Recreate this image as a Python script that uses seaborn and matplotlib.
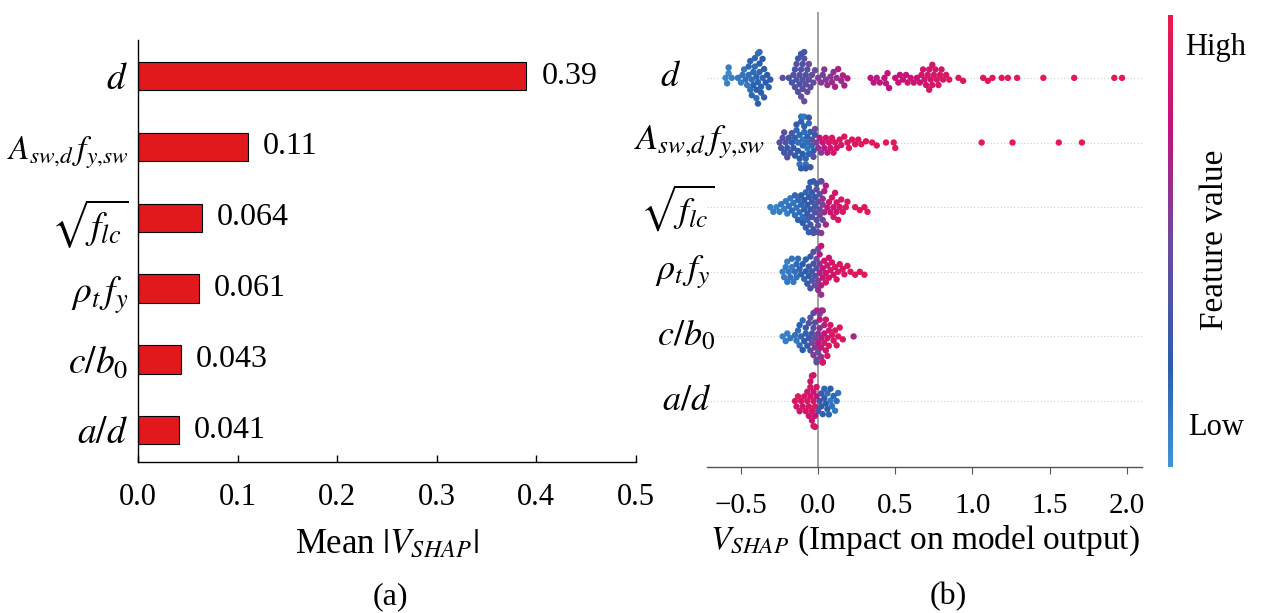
import numpy as np
import pandas as pd
import matplotlib
matplotlib.use("Agg")
import matplotlib.pyplot as plt
import matplotlib.colors as mcolors
import matplotlib.transforms as mtransforms
import seaborn as sns

# ---------------- data ----------------
features = [r"$d$", r"$A_{sw{,}d}\,f_{y{,}sw}$", r"$\sqrt{f_{lc}}$", r"$\rho_t\,f_y$", r"$c/b_0$", r"$a/d$"]
mean_abs_shap = [0.39, 0.11, 0.064, 0.061, 0.043, 0.041]
value_labels = ["0.39", "0.11", "0.064", "0.061", "0.043", "0.041"]
left_xticks = [0.0, 0.1, 0.2, 0.3, 0.4, 0.5]
left_xticklabels = ["0.0", "0.1", "0.2", "0.3", "0.4", "0.5"]
right_xticks = [-0.5, 0.0, 0.5, 1.0, 1.5, 2.0]
right_xticklabels = ["\u22120.5", "0.0", "0.5", "1.0", "1.5", "2.0"]

# (SHAP value, normalised feature value) for every sample, read from the beeswarm
d_points = [
    (-0.60, 0.06), (-0.59, 0.08), (-0.58, 0.05), (-0.58, 0.10), (-0.56, 0.08),
    (-0.52, 0.12), (-0.50, 0.10), (-0.49, 0.14), (-0.48, 0.12), (-0.47, 0.15), (-0.46, 0.12),
    (-0.45, 0.15), (-0.45, 0.18), (-0.44, 0.16), (-0.44, 0.20), (-0.43, 0.15), (-0.43, 0.18),
    (-0.42, 0.17), (-0.42, 0.21), (-0.41, 0.16), (-0.41, 0.19), (-0.40, 0.18), (-0.40, 0.22),
    (-0.40, 0.16), (-0.39, 0.20), (-0.39, 0.17), (-0.39, 0.23), (-0.38, 0.19), (-0.38, 0.22),
    (-0.38, 0.16), (-0.37, 0.20), (-0.37, 0.24), (-0.36, 0.18), (-0.36, 0.22), (-0.35, 0.21),
    (-0.35, 0.25), (-0.34, 0.22), (-0.33, 0.24), (-0.32, 0.20), (-0.31, 0.26),
    (-0.23, 0.45),
    (-0.19, 0.38), (-0.17, 0.35), (-0.16, 0.40), (-0.15, 0.33), (-0.15, 0.42), (-0.14, 0.36),
    (-0.14, 0.44), (-0.13, 0.38), (-0.13, 0.30), (-0.12, 0.42), (-0.12, 0.35), (-0.11, 0.40),
    (-0.11, 0.46), (-0.11, 0.32), (-0.10, 0.38), (-0.10, 0.44), (-0.10, 0.36), (-0.09, 0.42),
    (-0.09, 0.48), (-0.09, 0.34), (-0.08, 0.40), (-0.08, 0.45), (-0.07, 0.38), (-0.07, 0.47),
    (-0.06, 0.42), (-0.06, 0.50), (-0.05, 0.44), (-0.04, 0.48), (-0.03, 0.46), (-0.02, 0.50),
    (0.00, 0.55), (0.02, 0.58), (0.03, 0.52), (0.04, 0.60), (0.05, 0.56), (0.06, 0.62),
    (0.08, 0.58), (0.09, 0.64), (0.10, 0.60), (0.11, 0.66), (0.12, 0.62), (0.13, 0.68),
    (0.15, 0.64), (0.16, 0.70), (0.17, 0.66), (0.19, 0.72),
    (0.34, 0.72), (0.36, 0.74), (0.38, 0.70), (0.40, 0.75), (0.43, 0.76), (0.44, 0.73),
    (0.45, 0.78), (0.46, 0.74), (0.50, 0.76), (0.52, 0.78), (0.53, 0.75), (0.55, 0.80),
    (0.57, 0.77), (0.58, 0.82), (0.60, 0.79), (0.62, 0.80), (0.64, 0.78), (0.66, 0.82),
    (0.67, 0.84), (0.68, 0.80), (0.69, 0.85), (0.70, 0.82), (0.71, 0.86), (0.72, 0.84),
    (0.72, 0.88), (0.73, 0.85), (0.74, 0.87), (0.74, 0.83), (0.75, 0.88), (0.76, 0.86),
    (0.77, 0.90), (0.78, 0.87), (0.79, 0.89), (0.80, 0.86), (0.81, 0.90), (0.83, 0.88),
    (0.85, 0.90),
    (0.91, 0.92), (0.94, 0.90), (1.07, 0.93), (1.10, 0.95), (1.13, 0.92), (1.19, 0.94),
    (1.23, 0.96), (1.29, 0.95), (1.46, 0.97), (1.66, 0.96), (1.92, 0.98), (1.97, 0.97),
]
asw_points = [
    (-0.25, 0.40), (-0.24, 0.35), (-0.23, 0.42), (-0.22, 0.30), (-0.22, 0.45), (-0.21, 0.38),
    (-0.20, 0.25), (-0.20, 0.42), (-0.19, 0.30), (-0.18, 0.36), (-0.17, 0.22), (-0.17, 0.40),
    (-0.16, 0.28),
    (-0.15, 0.20), (-0.15, 0.26), (-0.14, 0.18), (-0.14, 0.30), (-0.13, 0.16), (-0.13, 0.22),
    (-0.12, 0.18), (-0.12, 0.24), (-0.12, 0.14), (-0.11, 0.20), (-0.11, 0.16), (-0.11, 0.26),
    (-0.10, 0.18), (-0.10, 0.14), (-0.10, 0.22), (-0.09, 0.16), (-0.09, 0.20), (-0.09, 0.12),
    (-0.08, 0.18), (-0.08, 0.15), (-0.08, 0.24), (-0.07, 0.17), (-0.07, 0.21), (-0.07, 0.13),
    (-0.06, 0.19), (-0.06, 0.16), (-0.06, 0.28), (-0.05, 0.20), (-0.05, 0.35), (-0.04, 0.18),
    (-0.04, 0.40), (-0.03, 0.22), (-0.03, 0.45), (-0.02, 0.30), (-0.02, 0.50), (-0.01, 0.55),
    (0.00, 0.60), (0.01, 0.75), (0.02, 0.55), (0.03, 0.80), (0.04, 0.70), (0.05, 0.85),
    (0.06, 0.78), (0.07, 0.88), (0.08, 0.82), (0.09, 0.90), (0.10, 0.86), (0.11, 0.88),
    (0.12, 0.84), (0.14, 0.90), (0.15, 0.87), (0.17, 0.92), (0.19, 0.89), (0.20, 0.91),
    (0.22, 0.88), (0.24, 0.92), (0.26, 0.90), (0.28, 0.93), (0.31, 0.91), (0.35, 0.94),
    (0.38, 0.92), (0.44, 0.95), (0.49, 0.93), (0.50, 0.96),
    (1.06, 0.97), (1.26, 0.98), (1.56, 0.98), (1.71, 0.99),
]
sqrt_points = [
    (-0.31, 0.08), (-0.29, 0.10), (-0.27, 0.07), (-0.25, 0.10), (-0.24, 0.12), (-0.22, 0.09),
    (-0.21, 0.12), (-0.20, 0.10),
    (-0.19, 0.14), (-0.18, 0.12), (-0.17, 0.16), (-0.16, 0.13), (-0.15, 0.15), (-0.15, 0.18),
    (-0.14, 0.14), (-0.13, 0.17), (-0.13, 0.20), (-0.12, 0.16),
    (-0.11, 0.18), (-0.11, 0.22), (-0.10, 0.16), (-0.10, 0.24), (-0.09, 0.20), (-0.09, 0.26),
    (-0.08, 0.18), (-0.08, 0.28), (-0.07, 0.22), (-0.07, 0.30), (-0.07, 0.18), (-0.06, 0.26),
    (-0.06, 0.32), (-0.06, 0.20), (-0.05, 0.28), (-0.05, 0.34), (-0.05, 0.22), (-0.04, 0.30),
    (-0.04, 0.36), (-0.04, 0.25), (-0.03, 0.32), (-0.03, 0.38), (-0.03, 0.26), (-0.02, 0.34),
    (-0.02, 0.40), (-0.02, 0.28), (-0.01, 0.36), (-0.01, 0.44), (-0.01, 0.30), (0.00, 0.40),
    (0.00, 0.48), (0.00, 0.34), (0.01, 0.45), (0.01, 0.52), (0.01, 0.38), (0.02, 0.50),
    (0.02, 0.58), (0.02, 0.42), (0.03, 0.55), (0.03, 0.62), (0.03, 0.46), (0.04, 0.60),
    (0.04, 0.68), (0.05, 0.65), (0.05, 0.72),
    (0.06, 0.80), (0.07, 0.84), (0.08, 0.82), (0.09, 0.86), (0.10, 0.83), (0.10, 0.88),
    (0.11, 0.85), (0.12, 0.87), (0.12, 0.82), (0.13, 0.88), (0.14, 0.86), (0.15, 0.89),
    (0.16, 0.87), (0.18, 0.90), (0.19, 0.88),
    (0.24, 0.92), (0.27, 0.93), (0.30, 0.94), (0.32, 0.95),
]
rho_points = [
    (-0.23, 0.08), (-0.22, 0.10), (-0.21, 0.09), (-0.20, 0.12), (-0.20, 0.08), (-0.19, 0.11),
    (-0.18, 0.13), (-0.17, 0.10), (-0.17, 0.14), (-0.16, 0.12), (-0.15, 0.15), (-0.14, 0.13),
    (-0.14, 0.17), (-0.13, 0.16), (-0.12, 0.18),
    (-0.11, 0.20), (-0.10, 0.22), (-0.09, 0.18), (-0.08, 0.25), (-0.08, 0.20), (-0.07, 0.28),
    (-0.06, 0.24), (-0.06, 0.32), (-0.05, 0.27), (-0.05, 0.35), (-0.04, 0.30), (-0.04, 0.38),
    (-0.03, 0.33), (-0.03, 0.42), (-0.02, 0.36), (-0.02, 0.45), (-0.01, 0.40), (-0.01, 0.50),
    (0.00, 0.55), (0.00, 0.62), (0.00, 0.48), (0.01, 0.66), (0.01, 0.58), (0.01, 0.72),
    (0.02, 0.70), (0.02, 0.62), (0.02, 0.78), (0.03, 0.75), (0.03, 0.82),
    (0.04, 0.84), (0.05, 0.80), (0.05, 0.86), (0.06, 0.83), (0.07, 0.87), (0.07, 0.82),
    (0.08, 0.86), (0.09, 0.88), (0.10, 0.85), (0.11, 0.89), (0.12, 0.87), (0.13, 0.90),
    (0.14, 0.88), (0.16, 0.91), (0.17, 0.89), (0.19, 0.92),
    (0.21, 0.91), (0.24, 0.93), (0.27, 0.92), (0.30, 0.94),
]
cb_points = [
    (-0.23, 0.08), (-0.21, 0.10), (-0.20, 0.09), (-0.18, 0.12),
    (-0.15, 0.14), (-0.14, 0.12), (-0.13, 0.16), (-0.12, 0.15), (-0.12, 0.20), (-0.11, 0.18),
    (-0.10, 0.22), (-0.10, 0.16), (-0.09, 0.24), (-0.08, 0.20), (-0.08, 0.28), (-0.07, 0.25),
    (-0.06, 0.30), (-0.06, 0.40), (-0.05, 0.35), (-0.05, 0.45), (-0.04, 0.38), (-0.04, 0.50),
    (-0.03, 0.42), (-0.03, 0.55), (-0.03, 0.35), (-0.02, 0.48), (-0.02, 0.60), (-0.02, 0.40),
    (-0.01, 0.52), (-0.01, 0.65), (-0.01, 0.45), (0.00, 0.58), (0.00, 0.70), (0.00, 0.50),
    (0.01, 0.62), (0.01, 0.75), (0.01, 0.55), (0.02, 0.68), (0.02, 0.80), (0.02, 0.58),
    (0.02, 0.85), (0.03, 0.72), (0.03, 0.84), (0.03, 0.62), (0.03, 0.88), (0.04, 0.78),
    (0.04, 0.86), (0.04, 0.66), (0.05, 0.82), (0.05, 0.88), (0.06, 0.84), (0.06, 0.90),
    (0.07, 0.86), (0.07, 0.89),
    (0.08, 0.87), (0.09, 0.90), (0.10, 0.88), (0.11, 0.91), (0.12, 0.89), (0.13, 0.92),
    (0.14, 0.90), (0.16, 0.91),
    (0.23, 0.65),
]
ad_points = [
    (-0.15, 0.88), (-0.14, 0.85), (-0.13, 0.90), (-0.12, 0.86), (-0.11, 0.89), (-0.10, 0.84),
    (-0.09, 0.88), (-0.08, 0.86), (-0.07, 0.90), (-0.07, 0.84), (-0.06, 0.88), (-0.06, 0.82),
    (-0.05, 0.86), (-0.05, 0.90), (-0.05, 0.82), (-0.04, 0.88), (-0.04, 0.84), (-0.04, 0.92),
    (-0.03, 0.86), (-0.03, 0.80), (-0.03, 0.90), (-0.03, 0.84), (-0.02, 0.88), (-0.02, 0.78),
    (-0.02, 0.86), (-0.01, 0.75), (-0.01, 0.85),
    (0.00, 0.40), (0.01, 0.30), (0.02, 0.25), (0.02, 0.35), (0.03, 0.20), (0.04, 0.28),
    (0.04, 0.18), (0.05, 0.22), (0.06, 0.15), (0.06, 0.26), (0.07, 0.18), (0.08, 0.12),
    (0.08, 0.22), (0.09, 0.15), (0.10, 0.18), (0.11, 0.12), (0.12, 0.16), (0.13, 0.14),
]
swarm_points = [d_points, asw_points, sqrt_points, rho_points, cb_points, ad_points]

# ---------------- style ----------------
plt.rcParams["font.family"] = ["Liberation Serif", "DejaVu Serif"]
plt.rcParams["mathtext.fontset"] = "stix"
plt.rcParams["axes.unicode_minus"] = True

bar_color = "#e2191c"
shap_cmap = mcolors.LinearSegmentedColormap.from_list(
    "shapish", [(0.0, "#4194d6"), (0.22, "#2a5ead"), (0.5, "#6c4a9d"),
                (0.75, "#c2127d"), (1.0, "#ea1a4e")])

fig = plt.figure(figsize=(12.61, 6.13), dpi=100)
ax1 = fig.add_axes([0.1094, 0.2463, 0.3949, 0.6884])
ax2 = fig.add_axes([0.5607, 0.2382, 0.3450, 0.7423])
cax = fig.add_axes([0.9263, 0.2382, 0.0040, 0.7374])

# ---------------- (a) bar chart ----------------
sns.barplot(x=mean_abs_shap, y=features, color=bar_color, saturation=1, width=0.4,
            edgecolor="black", linewidth=0.8, ax=ax1)
ax1.set_xlim(0, 0.5)
ax1.set_ylim(5.45, -0.51)
ax1.set_xticks(left_xticks)
ax1.set_xticklabels(left_xticklabels)
ax1.bar_label(ax1.containers[0], labels=value_labels, padding=11, fontsize=23)
for s in ["top", "right"]:
    ax1.spines[s].set_visible(False)
for s in ["left", "bottom"]:
    ax1.spines[s].set_color("black")
    ax1.spines[s].set_linewidth(1.0)
ax1.tick_params(axis="y", length=0, pad=7, labelsize=27)
ax1.get_yticklabels()[1].set_fontsize(24)
ax1.tick_params(axis="x", direction="in", length=5, width=1, pad=15, labelsize=22,
                bottom=True)
ax1.set_ylabel("")
ax1.set_xlabel(r"Mean $|V_{SHAP}|$", fontsize=25, va="center")
ax1.xaxis.set_label_coords(0.5, -0.195)

# ---------------- (b) beeswarm ----------------
rows = []
for feat, pts in zip(features, swarm_points):
    for sv, fv in pts:
        rows.append({"feature": feat, "shap": sv, "fval": fv})
df = pd.DataFrame(rows)

for i in range(len(features)):
    ax2.axhline(i, color="#d0d0d0", lw=0.8, ls=(0, (1, 2)), zorder=0)
ax2.axvline(0, color="#9a9a9a", lw=1.3, zorder=1)
sns.swarmplot(data=df, x="shap", y="feature", hue="fval", order=features,
              palette=shap_cmap, hue_norm=(0, 1), size=3.9, linewidth=0,
              legend=False, ax=ax2, zorder=3)
ax2.set_xlim(-0.72, 2.10)
ax2.set_ylim(6.02, -1.02)
ax2.set_xticks(right_xticks)
ax2.set_xticklabels(right_xticklabels)
ax2.set_yticks([])
ax2.set_ylabel("")
for s in ["top", "right", "left"]:
    ax2.spines[s].set_visible(False)
ax2.spines["bottom"].set_color("#555555")
ax2.spines["bottom"].set_linewidth(1.0)
ax2.tick_params(axis="x", direction="out", length=5, color="#555555", pad=14, labelsize=21,
                bottom=True)
ax2.set_xlabel(r"$V_{SHAP}$ (Impact on model output)", fontsize=24, va="center")
ax2.xaxis.set_label_coords(0.5, -0.163)

label_centers = [-0.085, -0.016, -0.069, -0.055, -0.048, -0.048]
trans = mtransforms.blended_transform_factory(ax2.transAxes, ax2.transData)
for i, (feat, xc) in enumerate(zip(features, label_centers)):
    ax2.text(xc, i, feat, transform=trans, ha="center", va="center", fontsize=26,
             clip_on=False)

# colour bar
sm = plt.cm.ScalarMappable(cmap=shap_cmap, norm=mcolors.Normalize(0, 1))
cb = fig.colorbar(sm, cax=cax)
cb.outline.set_visible(False)
cb.set_ticks([])
fig.text(0.9397, 0.9233, "High", ha="left", va="center", fontsize=22)
fig.text(0.9420, 0.3018, "Low", ha="left", va="center", fontsize=22)
fig.text(0.9635, 0.6085, "Feature value", ha="center", va="center", rotation=90,
         fontsize=24)

fig.text(0.3093, 0.0261, "(a)", ha="center", va="center", fontsize=23)
fig.text(0.7518, 0.0261, "(b)", ha="center", va="center", fontsize=23)

# compute the swarm layout once, then freeze it and enlarge the dots so that
# they overlap like a SHAP beeswarm
fig.canvas.draw()
for coll in ax2.collections:
    if "draw" in coll.__dict__:
        del coll.draw
        coll.set_sizes([4.6 ** 2])

fig.savefig("out.png", dpi=100)
